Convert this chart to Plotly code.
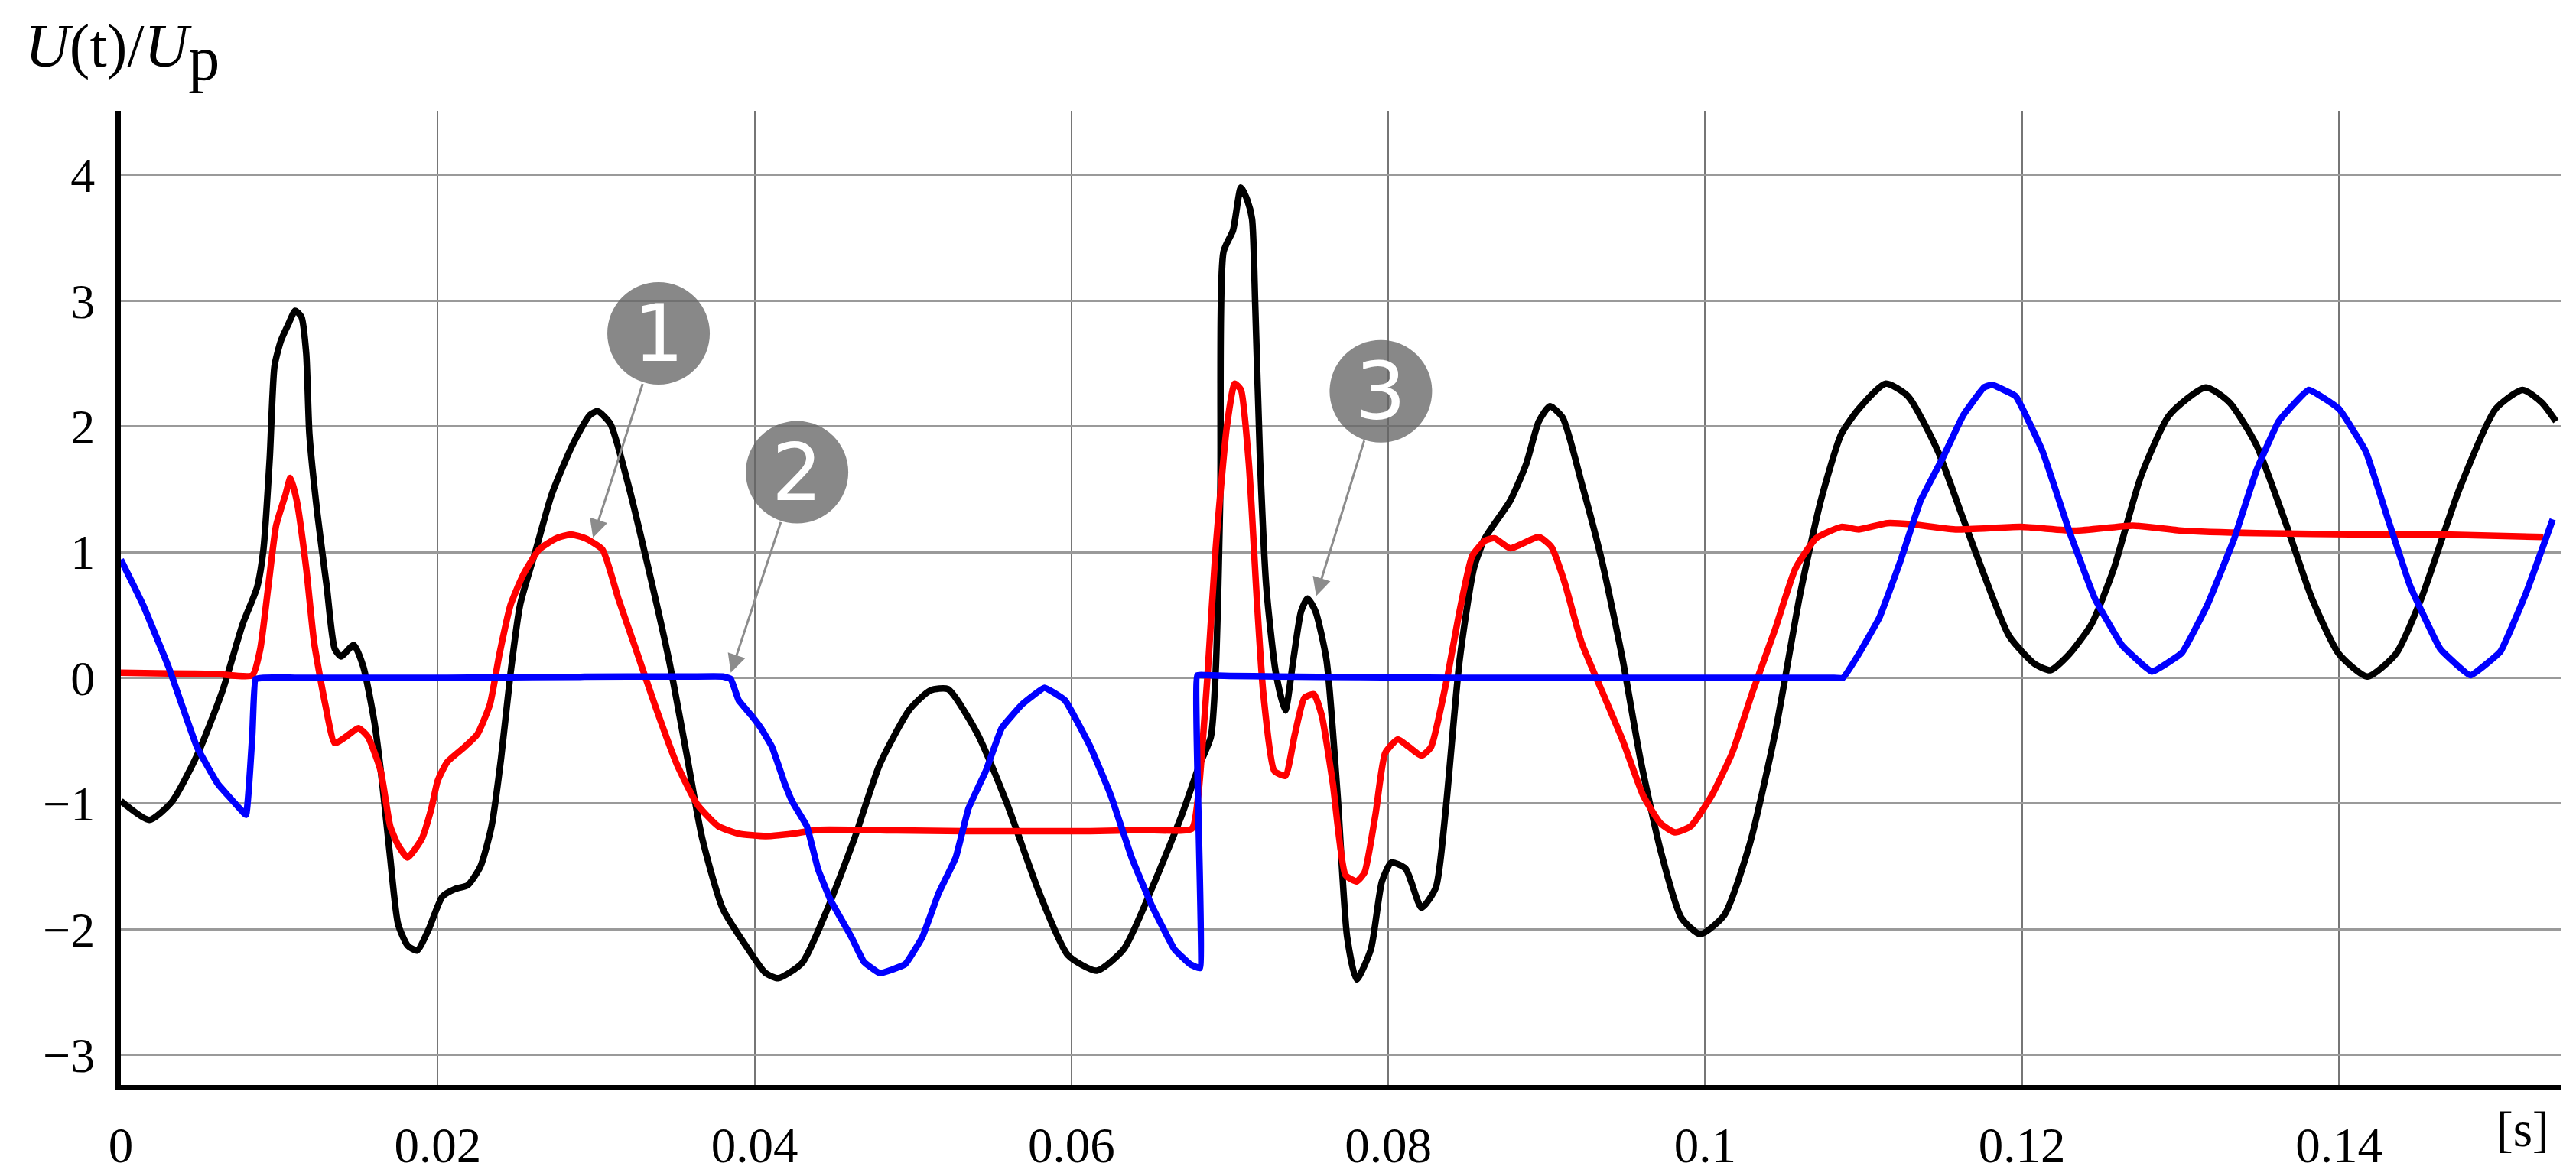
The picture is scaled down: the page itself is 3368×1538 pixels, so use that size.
import plotly.graph_objects as go

# ---- data ----
black_t = [0.0, 0.0018, 0.0032, 0.0048, 0.0064, 0.0077, 0.0086, 0.0090, 0.0094, 0.0097, 0.0101, 0.0106,
           0.0110, 0.0114, 0.0117, 0.0119, 0.0124, 0.0130, 0.0135, 0.0139, 0.0147, 0.0153, 0.0160, 0.0165,
           0.0170, 0.0175, 0.0181, 0.0187, 0.0194, 0.0203, 0.0211, 0.0219, 0.0227, 0.0234, 0.0240, 0.0246,
           0.0252, 0.0262, 0.0272, 0.0285, 0.0296, 0.0301, 0.0309, 0.0320, 0.0333, 0.0346, 0.0357, 0.0367,
           0.0380, 0.0396, 0.0407, 0.0415, 0.0430, 0.0445, 0.0463, 0.0479, 0.0498, 0.0511, 0.0522, 0.0540,
           0.0559, 0.0580, 0.0598, 0.0616, 0.0633, 0.0651, 0.0670, 0.0680, 0.0688, 0.0691, 0.0694, 0.0696,
           0.0702, 0.0707, 0.0711, 0.0714, 0.0716, 0.0719, 0.0723, 0.0729, 0.0735, 0.0740, 0.0745, 0.0749,
           0.0754, 0.0761, 0.0768, 0.0774, 0.0780, 0.0789, 0.0796, 0.0802, 0.0811, 0.0821, 0.0830, 0.0836,
           0.0845, 0.0854, 0.0861, 0.0877, 0.0887, 0.0895, 0.0902, 0.0910, 0.0922, 0.0935, 0.0948, 0.0959,
           0.0972, 0.0985, 0.0997, 0.1012, 0.1028, 0.1044, 0.1060, 0.1073, 0.1086, 0.1097, 0.1114, 0.1128,
           0.1147, 0.1163, 0.1176, 0.1192, 0.1208, 0.1218, 0.1230, 0.1244, 0.1258, 0.1275, 0.1293, 0.1316,
           0.1331, 0.1348, 0.1367, 0.1383, 0.1400, 0.1418, 0.1436, 0.1452, 0.1476, 0.1499, 0.1516, 0.1528,
           0.1537]
black_u = [-0.98, -1.13, -0.99, -0.62, -0.11, 0.43, 0.72, 1.02, 1.75, 2.48, 2.68, 2.82,
           2.92, 2.87, 2.58, 1.94, 1.31, 0.72, 0.23, 0.17, 0.26, 0.09, -0.35, -0.84,
           -1.43, -1.96, -2.13, -2.17, -2.01, -1.74, -1.68, -1.65, -1.50, -1.18, -0.64, 0.04,
           0.58, 1.02, 1.46, 1.85, 2.09, 2.12, 2.02, 1.55, 0.87, 0.14, -0.60, -1.28,
           -1.84, -2.16, -2.35, -2.39, -2.27, -1.87, -1.28, -0.69, -0.25, -0.10, -0.09, -0.43,
           -0.99, -1.72, -2.21, -2.33, -2.16, -1.67, -1.08, -0.72, -0.47, 0.04, 1.50, 3.39,
           3.56, 3.90, 3.80, 3.65, 2.97, 1.75, 0.72, 0.04, -0.26, 0.14, 0.53, 0.63,
           0.53, 0.14, -0.94, -2.06, -2.40, -2.16, -1.62, -1.47, -1.52, -1.83, -1.67, -1.08,
           0.14, 0.87, 1.11, 1.41, 1.70, 2.04, 2.16, 2.07, 1.55, 0.92, 0.14, -0.64,
           -1.38, -1.91, -2.04, -1.89, -1.33, -0.45, 0.67, 1.41, 1.94, 2.14, 2.34, 2.24,
           1.80, 1.26, 0.82, 0.33, 0.11, 0.06, 0.19, 0.43, 0.87, 1.60, 2.09, 2.31,
           2.19, 1.85, 1.21, 0.63, 0.19, 0.01, 0.19, 0.63, 1.50, 2.14, 2.29, 2.19,
           2.04]

red_t = [0.0, 0.0030, 0.0060, 0.0083, 0.0088, 0.0093, 0.0098, 0.0104, 0.0107, 0.0111, 0.0117, 0.0122,
         0.0129, 0.0135,
         0.0142, 0.0150, 0.0156, 0.0164, 0.0170, 0.0175, 0.0181, 0.0190, 0.0196, 0.0200, 0.0206, 0.0217,
         0.0225, 0.0233, 0.0239, 0.0246, 0.0254, 0.0264, 0.0275, 0.0284, 0.0293, 0.0304, 0.0314, 0.0325,
         0.0338, 0.0351, 0.0364, 0.0377, 0.0390, 0.0407, 0.0424, 0.0440, 0.0490, 0.0532, 0.0572, 0.0612,
         0.0645, 0.0676, 0.0680,
         0.0686, 0.0691, 0.0698, 0.0703, 0.0707, 0.0712, 0.0717, 0.0721, 0.0728, 0.0735, 0.0741, 0.0747,
         0.0753, 0.0758, 0.0765, 0.0773, 0.0780, 0.0785, 0.0792, 0.0798, 0.0806, 0.0813, 0.0821, 0.0827,
         0.0837, 0.0845, 0.0853, 0.0861, 0.0867, 0.0877, 0.0895, 0.0903, 0.0911, 0.0922, 0.0935, 0.0948,
         0.0961, 0.0972, 0.0981, 0.0991, 0.1004, 0.1017, 0.1030, 0.1044, 0.1057, 0.1070, 0.1086, 0.1097,
         0.1115, 0.1131, 0.1158, 0.1199, 0.1234, 0.1270, 0.1301, 0.1348, 0.1419, 0.1466, 0.1529]
red_u = [0.04, 0.035, 0.03, 0.02, 0.23, 0.72, 1.21, 1.46, 1.59, 1.41, 0.87, 0.28,
         -0.21, -0.52,
         -0.47, -0.40, -0.47, -0.74, -1.18, -1.33, -1.43, -1.28, -1.04, -0.82, -0.67, -0.55,
         -0.45, -0.21, 0.19, 0.58, 0.82, 1.02, 1.11, 1.14, 1.11, 1.02, 0.63, 0.23,
         -0.25, -0.69, -1.01, -1.18, -1.24, -1.26, -1.24, -1.21, -1.215, -1.22, -1.22, -1.22,
         -1.21, -1.20, -0.94,
         0.04, 1.02, 1.99, 2.34, 2.29, 1.70, 0.63, -0.11, -0.74, -0.78, -0.45, -0.16,
         -0.13, -0.30, -0.84, -1.57, -1.62, -1.55, -1.08, -0.60, -0.49, -0.55, -0.62, -0.55,
         -0.01, 0.53, 0.97, 1.09, 1.11, 1.03, 1.12, 1.04, 0.77, 0.28, -0.11, -0.50,
         -0.94, -1.16, -1.23, -1.18, -0.94, -0.60, -0.11, 0.38, 0.87, 1.11, 1.20, 1.18,
         1.23, 1.22, 1.18, 1.20, 1.17, 1.21, 1.17, 1.15, 1.14, 1.14, 1.12]

blue_t = [0.0, 0.0014, 0.0030, 0.0048, 0.0061, 0.0075, 0.0079, 0.0083, 0.0085, 0.0090, 0.0110, 0.0150,
          0.0206, 0.0260, 0.0320, 0.0360, 0.0380, 0.0385,
          0.0390, 0.0398, 0.0404, 0.0411, 0.0419, 0.0424, 0.0433, 0.0440, 0.0448, 0.0461, 0.0469, 0.0479,
          0.0495, 0.0506, 0.0516, 0.0527, 0.0535, 0.0546, 0.0556, 0.0569, 0.0583, 0.0596, 0.0612, 0.0625,
          0.0638, 0.0651, 0.0665, 0.0675, 0.0681, 0.06795, 0.0685, 0.0700, 0.0730, 0.0780, 0.0840, 0.0900,
          0.0960, 0.1020, 0.1060, 0.1080, 0.1087, 0.1097, 0.1110, 0.1123, 0.1136,
          0.1150, 0.1163, 0.1176, 0.1181, 0.1196, 0.1213, 0.1230, 0.1246, 0.1263, 0.1282, 0.1301, 0.1317,
          0.1334, 0.1348, 0.1362, 0.1381, 0.1400, 0.1417, 0.1431, 0.1445, 0.1464, 0.1483, 0.1502, 0.1518,
          0.1535]
blue_u = [0.94, 0.58, 0.09, -0.55, -0.84, -1.04, -1.09, -0.45, -0.01, 0.00, 0.00, 0.00,
          0.00, 0.005, 0.01, 0.01, 0.01, -0.01,
          -0.18, -0.30, -0.40, -0.55, -0.84, -0.99, -1.18, -1.52, -1.77, -2.06, -2.26, -2.35,
          -2.28, -2.06, -1.72, -1.43, -1.04, -0.74, -0.40, -0.21, -0.08, -0.18, -0.55, -0.94,
          -1.43, -1.82, -2.16, -2.28, -2.31, 0.02, 0.02, 0.015, 0.01, 0.005, 0.0, 0.0,
          0.0, 0.0, 0.0, 0.0, 0.00, 0.19, 0.48, 0.92, 1.41,
          1.75, 2.09, 2.31, 2.33, 2.24, 1.80, 1.16, 0.63, 0.26, 0.05, 0.20, 0.58,
          1.11, 1.65, 2.04, 2.29, 2.14, 1.80, 1.26, 0.73, 0.23, 0.02, 0.21, 0.67,
          1.26]

x_tick_vals = [0, 0.02, 0.04, 0.06, 0.08, 0.1, 0.12, 0.14]
x_tick_text = ["0", "0.02", "0.04", "0.06", "0.08", "0.1", "0.12", "0.14"]
y_tick_vals = [-3, -2, -1, 0, 1, 2, 3, 4]
y_tick_text = ["\u22123", "\u22122", "\u22121", "0", "1", "2", "3", "4"]

# callouts: label, circle centre (t, u), arrow tail (t, u), arrow head (t, u)
callout_labels = ["1", "2", "3"]
callout_centre = [(0.03394, 2.74), (0.04268, 1.635), (0.07953, 2.279)]
callout_tail = [(0.03296, 2.347), (0.04168, 1.247), (0.0785, 1.895)]
callout_head = [(0.0298, 1.114), (0.0385, 0.04), (0.07545, 0.65)]

# ---- figure ----
fig = go.Figure()
fig.add_trace(go.Scatter(x=black_t, y=black_u, mode="lines",
                         line=dict(color="black", width=8.5, shape="spline", smoothing=0.6),
                         showlegend=False))
fig.add_trace(go.Scatter(x=red_t, y=red_u, mode="lines",
                         line=dict(color="#ff0000", width=8.5, shape="spline", smoothing=0.5),
                         showlegend=False))
fig.add_trace(go.Scatter(x=blue_t, y=blue_u, mode="lines",
                         line=dict(color="#0000ff", width=8.5, shape="spline", smoothing=0.3),
                         showlegend=False))

serif = "Liberation Serif, Times New Roman, serif"

fig.update_layout(
    width=3368, height=1538,
    margin=dict(l=150, r=28, t=137, b=108),
    paper_bgcolor="white", plot_bgcolor="white",
    xaxis=dict(range=[0, 0.154], tickvals=x_tick_vals, ticktext=x_tick_text,
               showgrid=True, gridcolor="#767676", gridwidth=2, zeroline=False,
               showline=True, linecolor="black", linewidth=7, ticks="",
               tickfont=dict(family=serif, size=65, color="black"), ticklabelstandoff=16),
    yaxis=dict(range=[-3.24, 4.51], tickvals=y_tick_vals, ticktext=y_tick_text,
               showgrid=True, gridcolor="#9a9a9a", gridwidth=3, zeroline=False,
               showline=True, linecolor="black", linewidth=7, ticks="",
               tickfont=dict(family=serif, size=64, color="black"), ticklabelstandoff=14),
)

annotations = [
    dict(text="<i>U</i>(t)/<i>U</i><sub><span style='font-size:82px'>p</span></sub>",
         xref="paper", yref="paper",
         x=-0.0398, y=1.06, xanchor="left", yanchor="middle", showarrow=False,
         font=dict(family=serif, size=80, color="black")),
    dict(text="[s]", xref="x", yref="paper", x=0.1516, y=0, yshift=-20,
         xanchor="center", yanchor="top", showarrow=False,
         font=dict(family=serif, size=65, color="black")),
]

shapes = []
for lab, c, tl, hd in zip(callout_labels, callout_centre, callout_tail, callout_head):
    annotations.append(dict(x=hd[0], y=hd[1], ax=tl[0], ay=tl[1], xref="x", yref="y",
                            axref="x", ayref="y", text="", showarrow=True,
                            arrowhead=2, arrowsize=1.6, arrowwidth=3, arrowcolor="#8c8c8c"))
    shapes.append(dict(type="circle", xref="x", yref="y", xsizemode="pixel", ysizemode="pixel",
                       xanchor=c[0], yanchor=c[1], x0=-67, x1=67, y0=-67, y1=67,
                       fillcolor="rgba(100,100,100,0.77)", line=dict(width=0), layer="above"))
    annotations.append(dict(text=lab, x=c[0], y=c[1], xref="x", yref="y", showarrow=False,
                            xanchor="center", yanchor="middle",
                            font=dict(family="DejaVu Sans, sans-serif", size=104, color="white")))

fig.update_layout(annotations=annotations, shapes=shapes)
fig.write_html("out.html")
